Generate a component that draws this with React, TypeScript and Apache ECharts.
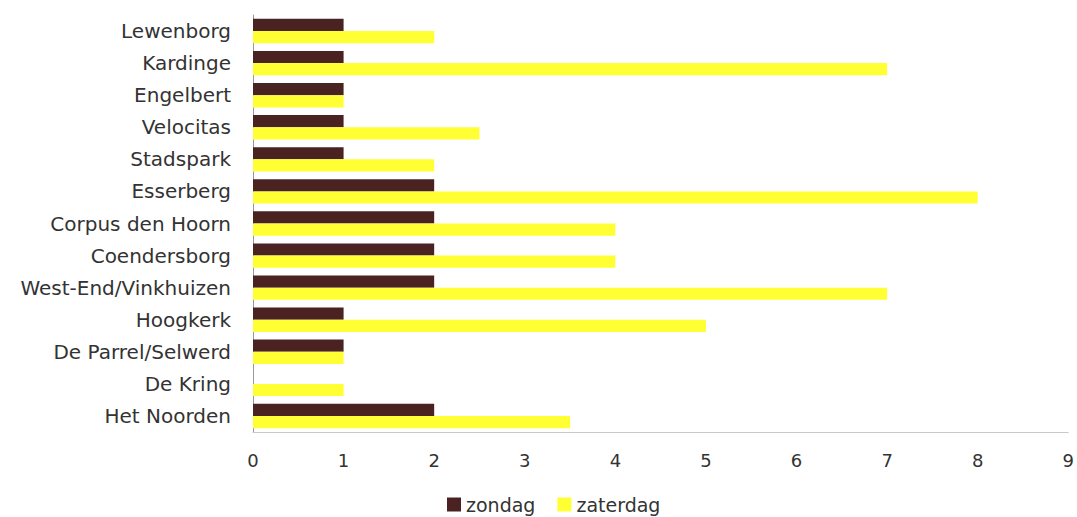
import React, { useEffect, useRef } from "react";
import * as echarts from "echarts";

const categories = [
  "Lewenborg",
  "Kardinge",
  "Engelbert",
  "Velocitas",
  "Stadspark",
  "Esserberg",
  "Corpus den Hoorn",
  "Coendersborg",
  "West-End/Vinkhuizen",
  "Hoogkerk",
  "De Parrel/Selwerd",
  "De Kring",
  "Het Noorden",
];
const zondag = [1, 1, 1, 1, 1, 2, 2, 2, 2, 1, 1, 0, 2];
const zaterdag = [2, 7, 1, 2.5, 2, 8, 4, 4, 7, 5, 1, 1, 3.5];
const xTicks = [0, 1, 2, 3, 4, 5, 6, 7, 8, 9];

export default function App() {
  const ref = useRef<HTMLDivElement>(null);
  useEffect(() => {
    if (!ref.current) return;
    const chart = echarts.init(ref.current, undefined, { renderer: "svg" });
    const font = "DejaVu Sans";
    chart.setOption({
      animation: false,
      backgroundColor: "#ffffff",
      grid: { left: 253, right: 8, top: 15, bottom: 85, containLabel: false },
      legend: {
        data: ["zondag", "zaterdag"],
        top: 495,
        left: 447,
        padding: 0,
        icon: "rect",
        itemWidth: 14,
        itemHeight: 14,
        itemGap: 22,
        textStyle: { fontFamily: font, fontSize: 19, color: "#333" },
      },
      xAxis: {
        type: "value",
        min: xTicks[0],
        max: xTicks[xTicks.length - 1],
        interval: 1,
        axisLine: { show: true, lineStyle: { color: "#c8c8c8", width: 1 } },
        axisTick: { show: false },
        splitLine: { show: false },
        axisLabel: {
          margin: 19,
          fontFamily: font,
          fontSize: 18,
          color: "#333",
        },
      },
      yAxis: {
        type: "category",
        data: categories,
        inverse: true,
        axisLine: { show: true, lineStyle: { color: "#999", width: 1 } },
        axisTick: { show: false },
        axisLabel: {
          margin: 22,
          fontFamily: font,
          fontSize: 20,
          color: "#333",
        },
      },
      series: [
        {
          name: "zondag",
          type: "bar",
          data: zondag,
          itemStyle: { color: "#4a2222" },
          barGap: "0%",
          barCategoryGap: "24%",
        },
        {
          name: "zaterdag",
          type: "bar",
          data: zaterdag,
          itemStyle: { color: "#ffff33" },
          barGap: "0%",
          barCategoryGap: "24%",
        },
      ],
    });
    return () => chart.dispose();
  }, []);
  return (
    <div
      ref={ref}
      style={{ position: "absolute", left: 0, top: 0, width: 1077, height: 517 }}
    />
  );
}
